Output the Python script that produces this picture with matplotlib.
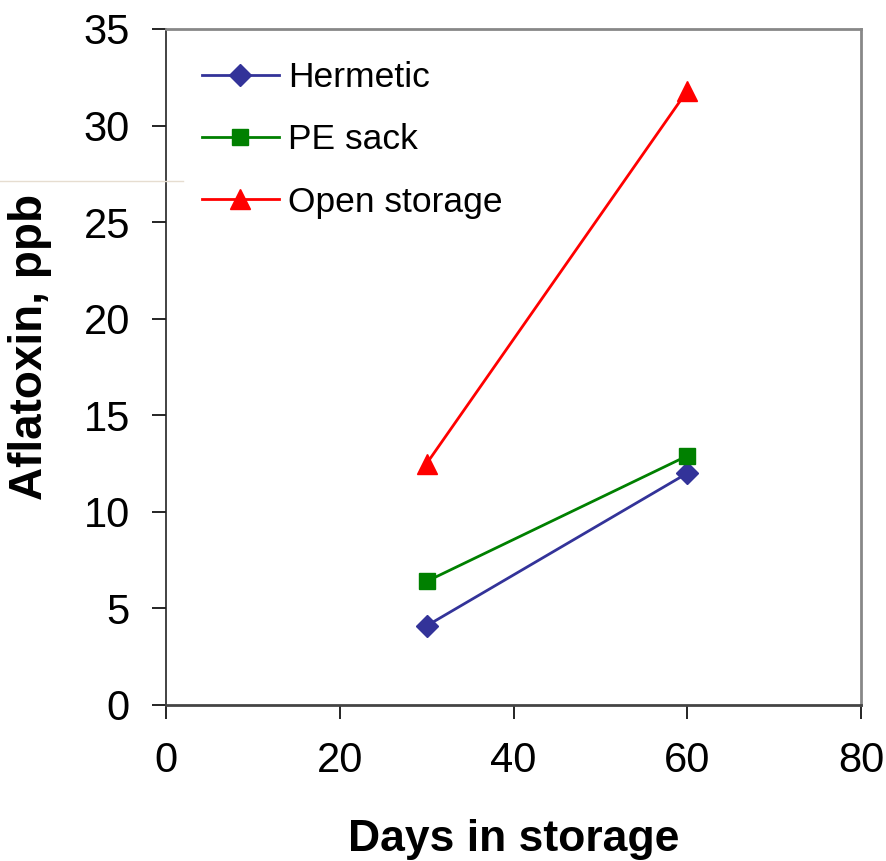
import matplotlib
matplotlib.use("Agg")
import matplotlib.pyplot as plt
from matplotlib.lines import Line2D

plt.rcParams['font.family'] = ['Liberation Sans', 'DejaVu Sans']

# Aflatoxin levels by storage method
days = [30, 60]
hermetic = [4.1, 12.0]
pe_sack = [6.4, 12.9]
open_storage = [12.5, 31.8]

series_names = ["Hermetic", "PE sack", "Open storage"]
x_ticks = [0, 20, 40, 60, 80]
y_ticks = [0, 5, 10, 15, 20, 25, 30, 35]

fig = plt.figure(figsize=(8.86, 8.61), dpi=100)
ax = fig.add_axes([166 / 886, 1 - 705 / 861, (861 - 166) / 886, (705 - 29) / 861])

ax.plot(days, hermetic, color='#333399', lw=2.0, marker='D', ms=11,
        label=series_names[0])
ax.plot(days, pe_sack, color='#008000', lw=2.0, marker='s', ms=12,
        label=series_names[1])
ax.plot(days, open_storage, color='#FF0000', lw=2.0, marker='^', ms=14,
        label=series_names[2])

ax.set_xlim(0, 80)
ax.set_ylim(0, 35)
ax.set_xticks(x_ticks)
ax.set_yticks(y_ticks)
ax.tick_params(axis='both', direction='out', length=10, width=1.2,
               labelsize=30, pad=16, color='black')

for side in ('top', 'right'):
    ax.spines[side].set_color('#888888')
    ax.spines[side].set_linewidth(2.0)
ax.spines['left'].set_color('#222222')
ax.spines['left'].set_linewidth(1.2)
ax.spines['bottom'].set_color('#444444')
ax.spines['bottom'].set_linewidth(2.0)

ax.set_xlabel("Days in storage", fontsize=32, fontweight='bold', labelpad=27)
ax.set_ylabel("Aflatoxin, ppb", fontsize=33, fontweight='bold')
ax.yaxis.set_label_coords(-0.164, 0.53)

leg = ax.legend(loc='upper left', bbox_to_anchor=(0.032, 0.973), frameon=False,
                fontsize=25.5, handlelength=2.15, handletextpad=0.28,
                labelspacing=0.82, borderaxespad=0)

fig.add_artist(Line2D([0, 183 / 886], [1 - 181 / 861, 1 - 181 / 861],
                      color='#e6ddd0', lw=1.0, transform=fig.transFigure))

fig.savefig("out.png", dpi=100)
